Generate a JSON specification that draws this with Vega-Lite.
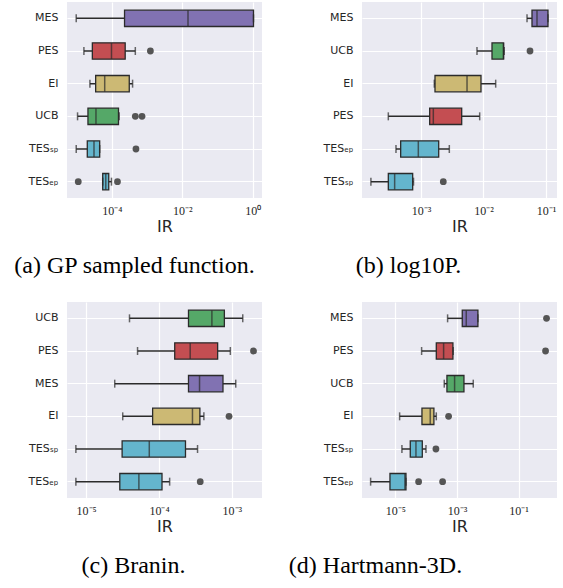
{
  "$schema": "https://vega.github.io/schema/vega-lite/v6.json",
  "padding": {"left": 13, "top": 2, "right": 5, "bottom": 5},
  "background": "white",
  "datasets": {
    "a_box": [
      {"method": "MES", "lower": 9.8e-6, "q1": 2.30e-4, "median": 1.45e-2, "q3": 1.045, "upper": 1.045},
      {"method": "PES", "lower": 1.62e-5, "q1": 2.81e-5, "median": 9.8e-5, "q3": 2.40e-4, "upper": 4.65e-4},
      {"method": "EI", "lower": 2.40e-5, "q1": 3.49e-5, "median": 6.3e-5, "q3": 3.13e-4, "upper": 3.89e-4},
      {"method": "UCB", "lower": 1.07e-5, "q1": 2.11e-5, "median": 3.56e-5, "q3": 1.55e-4, "upper": 1.62e-4},
      {"method": "TESₛₚ", "lower": 9.8e-6, "q1": 2.02e-5, "median": 3.13e-5, "q3": 4.54e-5, "upper": 4.54e-5},
      {"method": "TESₑₚ", "lower": 5.53e-5, "q1": 5.53e-5, "median": 6.75e-5, "q3": 8.2e-5, "upper": 9.8e-5}
    ],
    "a_out": [
      {"method": "PES", "value": 1.245e-3},
      {"method": "UCB", "value": 4.65e-4},
      {"method": "UCB", "value": 7.2e-4},
      {"method": "TESₛₚ", "value": 4.85e-4},
      {"method": "TESₑₚ", "value": 1.12e-5},
      {"method": "TESₑₚ", "value": 1.45e-4}
    ],
    "b_box": [
      {"method": "MES", "lower": 0.0497, "q1": 0.0597, "median": 0.0718, "q3": 0.1076, "upper": 0.1076},
      {"method": "UCB", "lower": 0.00787, "q1": 0.01368, "median": 0.0208, "q3": 0.0210, "upper": 0.0215},
      {"method": "EI", "lower": 0.001633, "q1": 0.001675, "median": 0.00545, "q3": 0.00912, "upper": 0.01567},
      {"method": "PES", "lower": 0.0003, "q1": 0.001377, "median": 0.001574, "q3": 0.00448, "upper": 0.00869},
      {"method": "TESₑₚ", "lower": 0.000398, "q1": 0.000473, "median": 0.000906, "q3": 0.00192, "upper": 0.00284},
      {"method": "TESₛₚ", "lower": 0.000158, "q1": 0.0003, "median": 0.000379, "q3": 0.000736, "upper": 0.000759}
    ],
    "b_out": [
      {"method": "UCB", "value": 0.0555},
      {"method": "TESₛₚ", "value": 0.002275}
    ],
    "c_box": [
      {"method": "UCB", "lower": 3.94e-5, "q1": 2.54e-4, "median": 5.32e-4, "q3": 7.89e-4, "upper": 1.41e-3},
      {"method": "PES", "lower": 5.08e-5, "q1": 1.644e-4, "median": 2.68e-4, "q3": 6.38e-4, "upper": 9.53e-4},
      {"method": "MES", "lower": 2.47e-5, "q1": 2.54e-4, "median": 3.6e-4, "q3": 7.55e-4, "upper": 1.13e-3},
      {"method": "EI", "lower": 3.18e-5, "q1": 8.18e-5, "median": 2.88e-4, "q3": 3.64e-4, "upper": 4.13e-4},
      {"method": "TESₛₚ", "lower": 7.24e-6, "q1": 3.12e-5, "median": 7.36e-5, "q3": 2.31e-4, "upper": 3.38e-4},
      {"method": "TESₑₚ", "lower": 7.24e-6, "q1": 2.9e-5, "median": 5.3e-5, "q3": 1.1e-4, "upper": 1.4e-4}
    ],
    "c_out": [
      {"method": "PES", "value": 1.98e-3},
      {"method": "EI", "value": 9.14e-4},
      {"method": "TESₑₚ", "value": 3.68e-4}
    ],
    "d_box": [
      {"method": "MES", "lower": 4.98e-4, "q1": 1.49e-3, "median": 2.01e-3, "q3": 4.8e-3, "upper": 4.8e-3},
      {"method": "PES", "lower": 7.14e-5, "q1": 2.14e-4, "median": 3.7e-4, "q3": 7.41e-4, "upper": 7.59e-4},
      {"method": "UCB", "lower": 3.88e-4, "q1": 4.74e-4, "median": 8.4e-4, "q3": 1.69e-3, "upper": 3.39e-3},
      {"method": "EI", "lower": 1.38e-5, "q1": 7.33e-5, "median": 1.36e-4, "q3": 1.79e-4, "upper": 2.14e-4},
      {"method": "TESₛₚ", "lower": 1.64e-5, "q1": 3.06e-5, "median": 4.68e-5, "q3": 7.52e-5, "upper": 9.9e-5},
      {"method": "TESₑₚ", "lower": 1.58e-6, "q1": 6.71e-6, "median": 2.05e-5, "q3": 2.22e-5, "upper": 2.22e-5}
    ],
    "d_out": [
      {"method": "MES", "value": 0.809},
      {"method": "PES", "value": 0.752},
      {"method": "EI", "value": 5.37e-4},
      {"method": "TESₛₚ", "value": 2.08e-4},
      {"method": "TESₑₚ", "value": 5.71e-5},
      {"method": "TESₑₚ", "value": 3.43e-4}
    ]
  },
  "columns": 2,
  "spacing": {"row": 104, "column": 100},
  "bounds": "flush",
  "concat": [
    {
      "width": 195, "height": 196,
      "title": {"text": "(a) GP sampled function.", "dx": -30, "font": "Liberation Serif", "fontSize": 24, "fontWeight": "normal", "orient": "bottom", "anchor": "middle", "frame": "group", "offset": 20, "color": "#000000"},
      "encoding": {"y": {"field": "method", "type": "nominal", "title": null,
        "scale": {"domain": ["MES", "PES", "EI", "UCB", "TESₛₚ", "TESₑₚ"], "paddingInner": 0, "paddingOuter": 0},
        "axis": {"grid": true, "bandPosition": 0.5}}},
      "layer": [
        {"data": {"name": "a_box"}, "mark": {"type": "rule", "color": "#2b2b2b", "strokeWidth": 1.5},
          "encoding": {"x": {"field": "lower", "type": "quantitative", "title": "IR", "scale": {"type": "log", "domain": [5.37e-6, 1.82]}, "axis": {"values": [1e-4, 1e-2, 1]}}, "x2": {"field": "upper"}}},
        {"data": {"name": "a_box"}, "mark": {"type": "bar", "height": {"band": 0.5}, "stroke": "#2b2b2b", "strokeWidth": 1.3},
          "encoding": {"x": {"field": "q1", "type": "quantitative", "title": "IR", "scale": {"type": "log", "domain": [5.37e-6, 1.82]}, "axis": {"values": [1e-4, 1e-2, 1]}}, "x2": {"field": "q3"},
            "color": {"field": "method", "type": "nominal", "legend": null, "scale": {"domain": ["MES", "PES", "EI", "UCB", "TESₛₚ", "TESₑₚ"], "range": ["#8172B2", "#C44E52", "#CCB974", "#55A868", "#64B5CD", "#64B5CD"]}}}},
        {"data": {"name": "a_box"}, "mark": {"type": "tick", "size": 16, "thickness": 1.5, "color": "#2b2b2b"},
          "encoding": {"x": {"field": "median", "type": "quantitative", "title": "IR", "scale": {"type": "log", "domain": [5.37e-6, 1.82]}, "axis": {"values": [1e-4, 1e-2, 1]}}}},
        {"data": {"name": "a_box"}, "mark": {"type": "tick", "size": 8, "thickness": 1.5, "color": "#2b2b2b"},
          "encoding": {"x": {"field": "lower", "type": "quantitative", "title": "IR", "scale": {"type": "log", "domain": [5.37e-6, 1.82]}, "axis": {"values": [1e-4, 1e-2, 1]}}}},
        {"data": {"name": "a_box"}, "mark": {"type": "tick", "size": 8, "thickness": 1.5, "color": "#2b2b2b"},
          "encoding": {"x": {"field": "upper", "type": "quantitative", "title": "IR", "scale": {"type": "log", "domain": [5.37e-6, 1.82]}, "axis": {"values": [1e-4, 1e-2, 1]}}}},
        {"data": {"name": "a_out"}, "mark": {"type": "point", "filled": true, "size": 46, "color": "#555555", "opacity": 1},
          "encoding": {"x": {"field": "value", "type": "quantitative", "title": "IR", "scale": {"type": "log", "domain": [5.37e-6, 1.82]}, "axis": {"values": [1e-4, 1e-2, 1]}}}}
      ]
    },
    {
      "width": 195, "height": 196,
      "title": {"text": "(b) log10P.", "dx": -51, "font": "Liberation Serif", "fontSize": 24, "fontWeight": "normal", "orient": "bottom", "anchor": "middle", "frame": "group", "offset": 20, "color": "#000000"},
      "encoding": {"y": {"field": "method", "type": "nominal", "title": null,
        "scale": {"domain": ["MES", "UCB", "EI", "PES", "TESₑₚ", "TESₛₚ"], "paddingInner": 0, "paddingOuter": 0},
        "axis": {"grid": true, "bandPosition": 0.5}}},
      "layer": [
        {"data": {"name": "b_box"}, "mark": {"type": "rule", "color": "#2b2b2b", "strokeWidth": 1.5},
          "encoding": {"x": {"field": "lower", "type": "quantitative", "title": "IR", "scale": {"type": "log", "domain": [1.138e-4, 0.15]}, "axis": {"values": [1e-3, 1e-2, 1e-1]}}, "x2": {"field": "upper"}}},
        {"data": {"name": "b_box"}, "mark": {"type": "bar", "height": {"band": 0.5}, "stroke": "#2b2b2b", "strokeWidth": 1.3},
          "encoding": {"x": {"field": "q1", "type": "quantitative", "title": "IR", "scale": {"type": "log", "domain": [1.138e-4, 0.15]}, "axis": {"values": [1e-3, 1e-2, 1e-1]}}, "x2": {"field": "q3"},
            "color": {"field": "method", "type": "nominal", "legend": null, "scale": {"domain": ["MES", "PES", "EI", "UCB", "TESₛₚ", "TESₑₚ"], "range": ["#8172B2", "#C44E52", "#CCB974", "#55A868", "#64B5CD", "#64B5CD"]}}}},
        {"data": {"name": "b_box"}, "mark": {"type": "tick", "size": 16, "thickness": 1.5, "color": "#2b2b2b"},
          "encoding": {"x": {"field": "median", "type": "quantitative", "title": "IR", "scale": {"type": "log", "domain": [1.138e-4, 0.15]}, "axis": {"values": [1e-3, 1e-2, 1e-1]}}}},
        {"data": {"name": "b_box"}, "mark": {"type": "tick", "size": 8, "thickness": 1.5, "color": "#2b2b2b"},
          "encoding": {"x": {"field": "lower", "type": "quantitative", "title": "IR", "scale": {"type": "log", "domain": [1.138e-4, 0.15]}, "axis": {"values": [1e-3, 1e-2, 1e-1]}}}},
        {"data": {"name": "b_box"}, "mark": {"type": "tick", "size": 8, "thickness": 1.5, "color": "#2b2b2b"},
          "encoding": {"x": {"field": "upper", "type": "quantitative", "title": "IR", "scale": {"type": "log", "domain": [1.138e-4, 0.15]}, "axis": {"values": [1e-3, 1e-2, 1e-1]}}}},
        {"data": {"name": "b_out"}, "mark": {"type": "point", "filled": true, "size": 46, "color": "#555555", "opacity": 1},
          "encoding": {"x": {"field": "value", "type": "quantitative", "title": "IR", "scale": {"type": "log", "domain": [1.138e-4, 0.15]}, "axis": {"values": [1e-3, 1e-2, 1e-1]}}}}
      ]
    },
    {
      "width": 195, "height": 196,
      "title": {"text": "(c) Branin.", "dx": -31, "font": "Liberation Serif", "fontSize": 24, "fontWeight": "normal", "orient": "bottom", "anchor": "middle", "frame": "group", "offset": 20, "color": "#000000"},
      "encoding": {"y": {"field": "method", "type": "nominal", "title": null,
        "scale": {"domain": ["UCB", "PES", "MES", "EI", "TESₛₚ", "TESₑₚ"], "paddingInner": 0, "paddingOuter": 0},
        "axis": {"grid": true, "bandPosition": 0.5}}},
      "layer": [
        {"data": {"name": "c_box"}, "mark": {"type": "rule", "color": "#2b2b2b", "strokeWidth": 1.5},
          "encoding": {"x": {"field": "lower", "type": "quantitative", "title": "IR", "scale": {"type": "log", "domain": [5.47e-6, 2.59e-3]}, "axis": {"values": [1e-5, 1e-4, 1e-3]}}, "x2": {"field": "upper"}}},
        {"data": {"name": "c_box"}, "mark": {"type": "bar", "height": {"band": 0.5}, "stroke": "#2b2b2b", "strokeWidth": 1.3},
          "encoding": {"x": {"field": "q1", "type": "quantitative", "title": "IR", "scale": {"type": "log", "domain": [5.47e-6, 2.59e-3]}, "axis": {"values": [1e-5, 1e-4, 1e-3]}}, "x2": {"field": "q3"},
            "color": {"field": "method", "type": "nominal", "legend": null, "scale": {"domain": ["MES", "PES", "EI", "UCB", "TESₛₚ", "TESₑₚ"], "range": ["#8172B2", "#C44E52", "#CCB974", "#55A868", "#64B5CD", "#64B5CD"]}}}},
        {"data": {"name": "c_box"}, "mark": {"type": "tick", "size": 16, "thickness": 1.5, "color": "#2b2b2b"},
          "encoding": {"x": {"field": "median", "type": "quantitative", "title": "IR", "scale": {"type": "log", "domain": [5.47e-6, 2.59e-3]}, "axis": {"values": [1e-5, 1e-4, 1e-3]}}}},
        {"data": {"name": "c_box"}, "mark": {"type": "tick", "size": 8, "thickness": 1.5, "color": "#2b2b2b"},
          "encoding": {"x": {"field": "lower", "type": "quantitative", "title": "IR", "scale": {"type": "log", "domain": [5.47e-6, 2.59e-3]}, "axis": {"values": [1e-5, 1e-4, 1e-3]}}}},
        {"data": {"name": "c_box"}, "mark": {"type": "tick", "size": 8, "thickness": 1.5, "color": "#2b2b2b"},
          "encoding": {"x": {"field": "upper", "type": "quantitative", "title": "IR", "scale": {"type": "log", "domain": [5.47e-6, 2.59e-3]}, "axis": {"values": [1e-5, 1e-4, 1e-3]}}}},
        {"data": {"name": "c_out"}, "mark": {"type": "point", "filled": true, "size": 46, "color": "#555555", "opacity": 1},
          "encoding": {"x": {"field": "value", "type": "quantitative", "title": "IR", "scale": {"type": "log", "domain": [5.47e-6, 2.59e-3]}, "axis": {"values": [1e-5, 1e-4, 1e-3]}}}}
      ]
    },
    {
      "width": 195, "height": 196,
      "title": {"text": "(d) Hartmann-3D.", "dx": -84, "font": "Liberation Serif", "fontSize": 24, "fontWeight": "normal", "orient": "bottom", "anchor": "middle", "frame": "group", "offset": 20, "color": "#000000"},
      "encoding": {"y": {"field": "method", "type": "nominal", "title": null,
        "scale": {"domain": ["MES", "PES", "UCB", "EI", "TESₛₚ", "TESₑₚ"], "paddingInner": 0, "paddingOuter": 0},
        "axis": {"grid": true, "bandPosition": 0.5}}},
      "layer": [
        {"data": {"name": "d_box"}, "mark": {"type": "rule", "color": "#2b2b2b", "strokeWidth": 1.5},
          "encoding": {"x": {"field": "lower", "type": "quantitative", "title": "IR", "scale": {"type": "log", "domain": [8.3e-7, 1.77]}, "axis": {"values": [1e-5, 1e-3, 1e-1]}}, "x2": {"field": "upper"}}},
        {"data": {"name": "d_box"}, "mark": {"type": "bar", "height": {"band": 0.5}, "stroke": "#2b2b2b", "strokeWidth": 1.3},
          "encoding": {"x": {"field": "q1", "type": "quantitative", "title": "IR", "scale": {"type": "log", "domain": [8.3e-7, 1.77]}, "axis": {"values": [1e-5, 1e-3, 1e-1]}}, "x2": {"field": "q3"},
            "color": {"field": "method", "type": "nominal", "legend": null, "scale": {"domain": ["MES", "PES", "EI", "UCB", "TESₛₚ", "TESₑₚ"], "range": ["#8172B2", "#C44E52", "#CCB974", "#55A868", "#64B5CD", "#64B5CD"]}}}},
        {"data": {"name": "d_box"}, "mark": {"type": "tick", "size": 16, "thickness": 1.5, "color": "#2b2b2b"},
          "encoding": {"x": {"field": "median", "type": "quantitative", "title": "IR", "scale": {"type": "log", "domain": [8.3e-7, 1.77]}, "axis": {"values": [1e-5, 1e-3, 1e-1]}}}},
        {"data": {"name": "d_box"}, "mark": {"type": "tick", "size": 8, "thickness": 1.5, "color": "#2b2b2b"},
          "encoding": {"x": {"field": "lower", "type": "quantitative", "title": "IR", "scale": {"type": "log", "domain": [8.3e-7, 1.77]}, "axis": {"values": [1e-5, 1e-3, 1e-1]}}}},
        {"data": {"name": "d_box"}, "mark": {"type": "tick", "size": 8, "thickness": 1.5, "color": "#2b2b2b"},
          "encoding": {"x": {"field": "upper", "type": "quantitative", "title": "IR", "scale": {"type": "log", "domain": [8.3e-7, 1.77]}, "axis": {"values": [1e-5, 1e-3, 1e-1]}}}},
        {"data": {"name": "d_out"}, "mark": {"type": "point", "filled": true, "size": 46, "color": "#555555", "opacity": 1},
          "encoding": {"x": {"field": "value", "type": "quantitative", "title": "IR", "scale": {"type": "log", "domain": [8.3e-7, 1.77]}, "axis": {"values": [1e-5, 1e-3, 1e-1]}}}}
      ]
    }
  ],
  "resolve": {"scale": {"x": "independent", "y": "independent", "color": "independent"}},
  "config": {
    "view": {"fill": "#EAEAF2", "stroke": null},
    "axis": {"domain": false, "ticks": false, "gridColor": "#FFFFFF", "gridWidth": 1.2, "gridOpacity": 1, "labelColor": "#262626", "titleColor": "#262626"},
    "axisY": {"labelFont": "DejaVu Sans", "labelFontSize": 11, "labelPadding": 9},
    "axisX": {"labelFont": "Liberation Serif", "labelFontSize": 12, "labelPadding": 7, "labelFlush": false,
      "labelExpr": "'10' + replace(replace(replace(replace(replace(replace(replace(''+round(log(datum.value)/LN10),'-','⁻'),'0','⁰'),'1','¹'),'2','²'),'3','³'),'4','⁴'),'5','⁵')",
      "titleFont": "DejaVu Sans", "titleFontSize": 16, "titleFontWeight": "normal", "titlePadding": 2}
  }
}
